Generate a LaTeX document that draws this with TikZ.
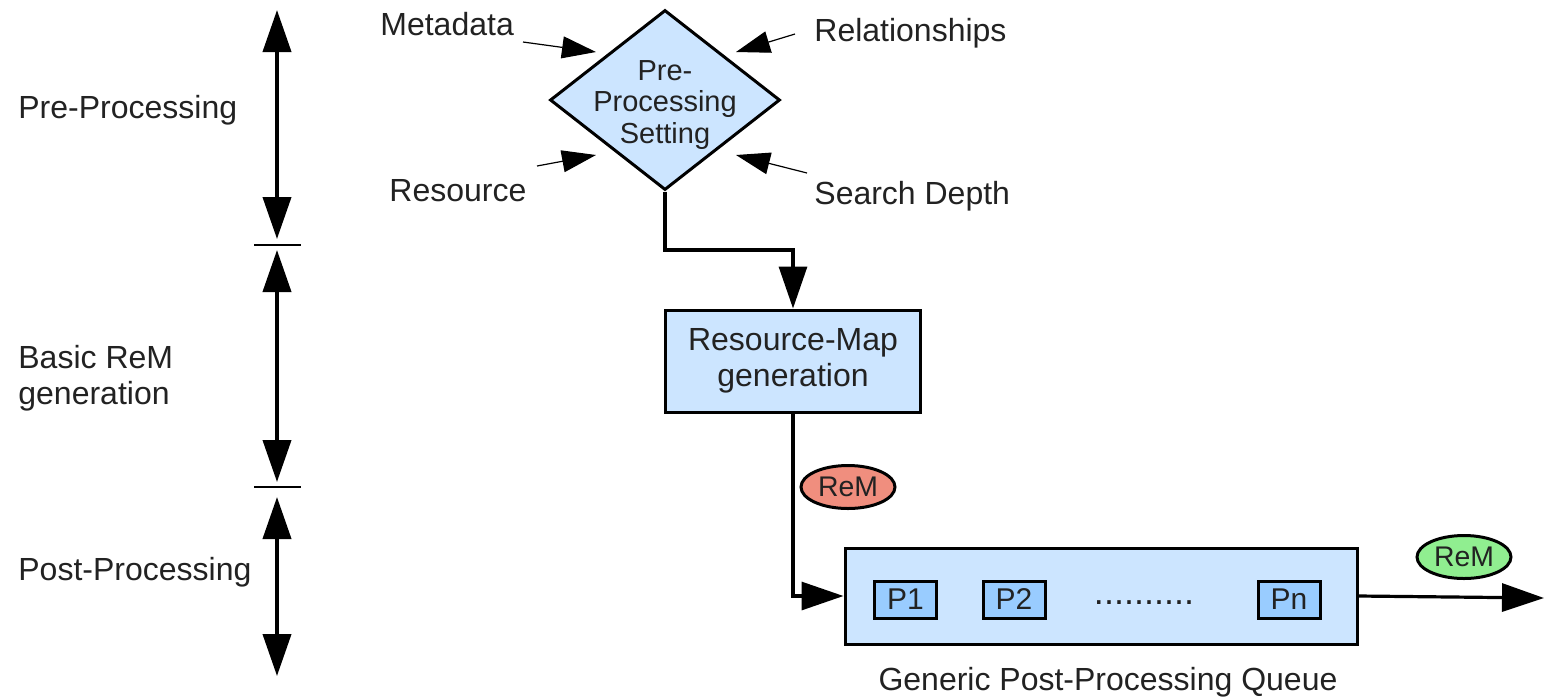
\documentclass[tikz,border=0pt]{standalone}
\usepackage{fontspec}
\setmainfont{Liberation Sans}
\usetikzlibrary{arrows.meta,shapes.geometric}
\definecolor{txt}{HTML}{222222}
\definecolor{boxblue}{HTML}{CCE5FF}
\definecolor{pblue}{HTML}{99CCFF}
\definecolor{remred}{HTML}{F08E7E}
\definecolor{remgreen}{HTML}{90EE90}
\begin{document}
\begin{tikzpicture}[x=0.5pt,y=-0.5pt,
  lbl/.style={font=\fontsize{16}{18}\selectfont,text=txt,inner sep=0},
  dialbl/.style={font=\fontsize{14.5}{15.8}\selectfont,text=txt,inner sep=0,align=center},
  bigbox/.style={draw,line width=1.5pt,fill=boxblue,inner sep=0,font=\fontsize{16}{18}\selectfont,text=txt,align=center},
  pbox/.style={draw,line width=1.5pt,fill=pblue,inner sep=0,minimum width=31pt,minimum height=18.5pt,font=\fontsize{15}{17}\selectfont,text=txt},
  remell/.style={ellipse,draw,line width=1.5pt,inner sep=0,minimum width=47pt,minimum height=21.5pt,font=\fontsize{14.2}{16}\selectfont,text=txt},
  vert/.style={line width=2pt,{Triangle[length=21pt,width=14pt]}-{Triangle[length=21pt,width=14pt]}},
  conn/.style={line width=1.6pt,-{Triangle[length=21pt,width=14pt]}},
  small/.style={line width=0.6pt,-{Triangle[length=17pt,width=11pt]}},
  sepline/.style={line width=0.7pt}]
\useasboundingbox (0,0) rectangle (1544,698);

% left phase labels
\node[lbl,anchor=base west] (pre) at (18,118) {Pre-Processing};
\node[lbl,anchor=west,align=left,font=\fontsize{16}{18}\selectfont] (basic) at (18,378) {Basic ReM\\generation};
\node[lbl,anchor=base west] (post) at (18,580) {Post-Processing};

% vertical phase arrows
\coordinate (v1a) at (277,10);
\coordinate (v1b) at (277,239);
\coordinate (v2a) at (277,250);
\coordinate (v2b) at (277,482);
\coordinate (v3a) at (277,497);
\coordinate (v3b) at (277,676);
\draw[vert] (v1a) -- (v1b);
\draw[vert] (v2a) -- (v2b);
\draw[vert] (v3a) -- (v3b);
\draw[sepline] (254,245) -- (301,245);
\draw[sepline] (254,487) -- (301,487);

% diamond
\node[diamond,draw,line width=1.5pt,fill=boxblue,inner sep=0,minimum width=115pt,minimum height=90pt] (dia) at (665,100) {};
\node[dialbl] (diatext) at (665,105) {Pre-\\Processing\\Setting};

% inputs
\node[lbl,anchor=base west] (meta) at (380,35) {Metadata};
\node[lbl,anchor=base west] (rel) at (814,41) {Relationships};
\node[lbl,anchor=base west] (res) at (389,201) {Resource};
\node[lbl,anchor=base west] (sd) at (814,204) {Search Depth};
\coordinate (metaS) at (523,42);
\coordinate (metaT) at (596,52);
\coordinate (relS) at (795,34);
\coordinate (relT) at (736,52);
\coordinate (resS) at (537,166);
\coordinate (resT) at (596,155);
\coordinate (sdS) at (807,173);
\coordinate (sdT) at (736,155);
\draw[small] (metaS) -- (metaT);
\draw[small] (relS) -- (relT);
\draw[small] (resS) -- (resT);
\draw[small] (sdS) -- (sdT);

% resource map generation
\node[bigbox,minimum width=127.5pt,minimum height=51pt] (rmg) at (793,361) {Resource-Map\\generation};
\draw[conn] (dia.south) -- (665,250) -| (rmg.north);

% queue
\node[bigbox,minimum width=256pt,minimum height=48pt] (queue) at (1101,596) {};
\node[pbox] (p1) at (905.5,599.5) {P1};
\node[pbox] (p2) at (1014,599.5) {P2};
\node[pbox] (pn) at (1289,599.5) {Pn};
\node[text=txt,font=\fontsize{18}{20}\selectfont,inner sep=0,anchor=base] (dots) at (1144,604) {..........};
\node[lbl,anchor=base] (qlabel) at (1108,690) {Generic Post-Processing Queue};

\draw[conn] (rmg.south) |- (queue.west);
\node[remell,fill=remred] (rem1) at (848,487) {ReM};

\coordinate (outend) at (1544,598);
\draw[conn] (queue.east) -- (outend);
\node[remell,fill=remgreen] (rem2) at (1464,557) {ReM};
\end{tikzpicture}
\end{document}
